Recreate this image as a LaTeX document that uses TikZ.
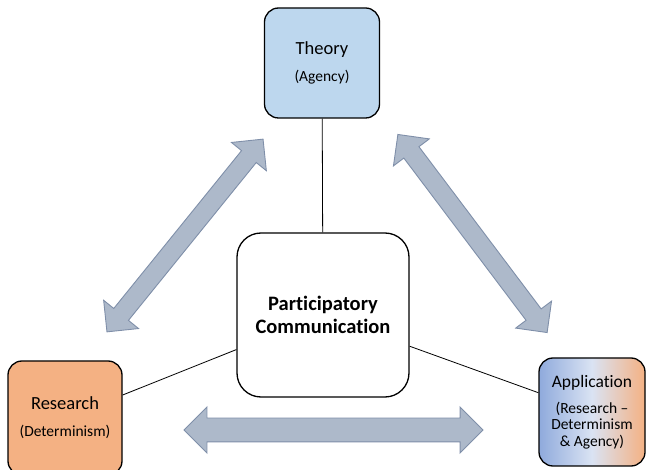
\documentclass[tikz,border=0pt]{standalone}
\usepackage{fontspec}
\setmainfont{Carlito}[Ligatures={TeX,NoCommon}]
\usepackage{tikz}
\usetikzlibrary{shapes.arrows}
\usetikzlibrary{positioning}
\definecolor{theoryblue}{HTML}{BDD7EE}
\definecolor{researchorange}{HTML}{F4B183}
\definecolor{appblue}{HTML}{8FAADC}
\definecolor{applight}{HTML}{DAE3F3}
\definecolor{arrowfill}{HTML}{ADB9CA}
\definecolor{arrowdraw}{HTML}{7F8FA9}
\pgfdeclarehorizontalshading{appshade}{100bp}{color(0bp)=(appblue); color(25bp)=(appblue); color(50bp)=(applight); color(75bp)=(researchorange); color(100bp)=(researchorange)}
\newcommand{\subtxt}{\fontsize{15.5}{17}\selectfont}

\begin{document}
\begin{tikzpicture}[x=1pt, y=-1pt]
				\tikzstyle{boxnode}=[draw=black, line width=1.3pt, rounded corners=14pt, align=center, inner sep=0pt, font=\fontsize{18.5}{17}\selectfont]
				\tikzstyle{bigarrow}=[double arrow, draw=arrowdraw, fill=arrowfill, line width=0.9pt, inner xsep=0pt, double arrow head extend=13pt]
				
				\useasboundingbox (0,0) rectangle (646,470);
				\clip (0,0) rectangle (646,470);
				
				\node (theory) at (322,63) [boxnode, fill=theoryblue, minimum width=115pt, minimum height=110pt] {Theory\\[10pt]{\subtxt (Agency)}};
				\node (pc) at (323,315) [boxnode, fill=white, rounded corners=24pt, minimum width=172pt, minimum height=164pt, font=\fontsize{20.5}{23}\selectfont\bfseries] {Participatory\\Communication};
				\node (research) at (65,418) [boxnode, fill=researchorange, minimum width=114pt, minimum height=114pt] {Research\\[10pt]{\subtxt (Determinism)}};
				\node (application) at (592,412) [boxnode, shading=appshade, minimum width=106pt, minimum height=108pt, font=\fontsize{17.5}{16.5}\selectfont] {Application\\[9.5pt]{\subtxt (Research –}\\{\subtxt Determinism}\\{\subtxt \& Agency)}};
				
				\draw [line width=0.8pt] (theory) -- (pc);
				\draw [line width=0.8pt] (research) -- (pc);
				\draw [line width=0.8pt] (pc) -- (application);
				
				\node (arrowtr) at (185,235.5) [bigarrow, rotate=51, minimum height=248pt, inner ysep=9pt] {};
				\node (arrowta) at (472.5,233.5) [bigarrow, rotate=-53, minimum height=248pt, inner ysep=9pt] {};
				\node (arrowra) at (333.5,430) [bigarrow, minimum height=299pt, inner ysep=11.5pt, double arrow head extend=11pt] {};
				
				\end{tikzpicture}
\end{document}
